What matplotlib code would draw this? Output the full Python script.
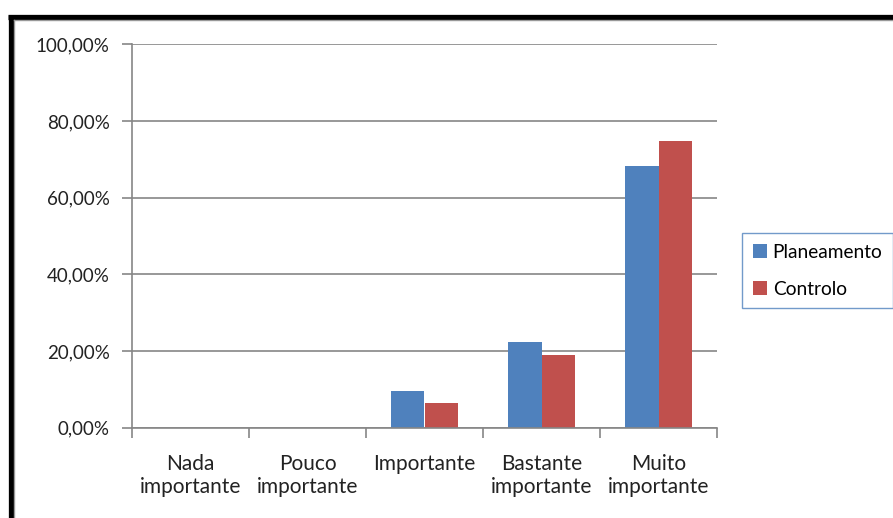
import matplotlib
matplotlib.use("Agg")
import matplotlib.pyplot as plt
from matplotlib.lines import Line2D
from matplotlib.patches import Patch
import numpy as np

categories = ["Nada\nimportante", "Pouco\nimportante", "Importante",
              "Bastante\nimportante", "Muito\nimportante"]
planeamento = [0.0, 0.0, 9.5, 22.2, 68.3]
controlo = [0.0, 0.0, 6.3, 19.0, 74.7]
series_names = ["Planeamento", "Controlo"]
yticks = [0, 20, 40, 60, 80, 100]
ytick_labels = ["0,00%", "20,00%", "40,00%", "60,00%", "80,00%", "100,00%"]

blue = "#4F81BD"
red = "#C0504D"
axis_grey = "#868686"

plt.rcParams["font.family"] = ["Lato", "DejaVu Sans"]

W, H = 893, 518
fig = plt.figure(figsize=(W / 100, H / 100), dpi=100)
ax = fig.add_axes([132 / W, 1 - 427.5 / H, (717 - 132) / W, (427.5 - 44.4) / H])

x = np.arange(len(categories))
bw = 1 / 3.5
ax.bar(x - bw / 2, planeamento, bw, color=blue, label=series_names[0])
ax.bar(x + bw / 2, controlo, bw, color=red, label=series_names[1])

ax.set_xlim(-0.5, len(categories) - 0.5)
ax.set_ylim(0, 100)
ax.set_yticks(yticks)
ax.set_yticklabels(ytick_labels)
ax.yaxis.grid(True, color=axis_grey, linewidth=1.2)
ax.set_axisbelow(True)

# category labels centred, tick marks on the boundaries
ax.set_xticks(x)
ax.set_xticklabels(categories, linespacing=1.22)
ax.set_xticks(np.arange(-0.5, len(categories)), minor=True)
ax.tick_params(axis="x", which="major", length=0, pad=19, labelsize=15, labelcolor="#222222")
ax.tick_params(axis="x", which="minor", length=7, width=1.2, color=axis_grey, direction="out")
ax.tick_params(axis="y", length=7, width=1.2, color=axis_grey, pad=9, labelsize=13.5,
               labelcolor="#222222")

for side in ["top", "right"]:
    ax.spines[side].set_visible(False)
for side in ["left", "bottom"]:
    ax.spines[side].set_color(axis_grey)
    ax.spines[side].set_linewidth(1.2)

handles = [Patch(facecolor=blue, label=series_names[0]),
           Patch(facecolor=red, label=series_names[1])]
leg = fig.legend(handles=handles, loc="upper left",
                 bbox_to_anchor=(742 / W, 1 - 233 / H),
                 fontsize=13.8, frameon=True, fancybox=False,
                 handlelength=0.75, handleheight=0.75, handletextpad=0.3,
                 labelspacing=1.05, borderpad=0.55, borderaxespad=0)
leg.get_frame().set_edgecolor("#4F81BD")
leg.get_frame().set_linewidth(1.0)

# outer frame: heavy black border along the top and left with a thin grey inner line
fig.add_artist(Line2D([10.5 / W, 10.5 / W], [0, 1 - 15 / H], color="black",
                      linewidth=3.8, transform=fig.transFigure, solid_capstyle="butt"))
fig.add_artist(Line2D([8 / W, 1], [1 - 17 / H, 1 - 17 / H], color="black",
                      linewidth=3.8, transform=fig.transFigure, solid_capstyle="butt"))
fig.add_artist(Line2D([13.5 / W, 1], [1 - 19.8 / H, 1 - 19.8 / H], color="#999999",
                      linewidth=1.0, transform=fig.transFigure))
fig.add_artist(Line2D([13.5 / W, 13.5 / W], [0, 1 - 19.8 / H], color="#999999",
                      linewidth=1.0, transform=fig.transFigure))

fig.savefig("out.png", dpi=100)
